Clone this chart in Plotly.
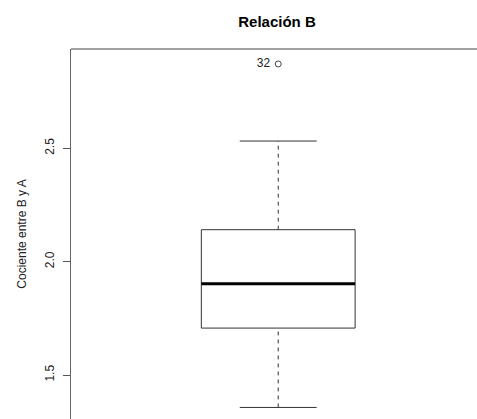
import plotly.graph_objects as go

# Summary statistics of the ratio B / A
group_pos = [1]
q1 = [1.707]
median = [1.903]
q3 = [2.141]
whisker_low = [1.357]
whisker_high = [2.532]
outlier_values = [2.872]
outlier_labels = ["32"]

y_ticks = [1.5, 2.0, 2.5]
y_tick_text = ["1.5", "2.0", "2.5"]

FONT = "Arial, Liberation Sans, sans-serif"
LINE = "#333333"
box_half = 0.2
cap_half = 0.1

fig = go.Figure()

for x, lo, a, m, b, hi in zip(group_pos, whisker_low, q1, median, q3, whisker_high):
    # box outline
    fig.add_trace(go.Scatter(
        x=[x - box_half, x + box_half, x + box_half, x - box_half, x - box_half],
        y=[a, a, b, b, a], mode="lines",
        line=dict(color=LINE, width=1), hoverinfo="skip"))
    # median
    fig.add_trace(go.Scatter(
        x=[x - box_half, x + box_half], y=[m, m], mode="lines",
        line=dict(color="black", width=3), hoverinfo="skip"))
    # dashed whiskers
    for y0, y1 in ((lo, a), (b, hi)):
        fig.add_trace(go.Scatter(
            x=[x, x], y=[y0, y1], mode="lines",
            line=dict(color=LINE, width=1, dash="4px,4px"), hoverinfo="skip"))
    # whisker caps
    for yv in (lo, hi):
        fig.add_trace(go.Scatter(
            x=[x - cap_half, x + cap_half], y=[yv, yv], mode="lines",
            line=dict(color=LINE, width=1), hoverinfo="skip"))

# outlier with its case label
fig.add_trace(go.Scatter(
    x=[group_pos[0]] * len(outlier_values), y=outlier_values,
    mode="markers+text", text=[t + "\u00a0" for t in outlier_labels],
    textposition="middle left",
    textfont=dict(family=FONT, size=12, color="#222222"),
    marker=dict(symbol="circle-open", size=6, color="#444444", line=dict(width=1)),
    hoverinfo="skip"))

fig.update_layout(
    width=477, height=419,
    margin=dict(l=71, r=0, t=49, b=0),
    paper_bgcolor="white", plot_bgcolor="white",
    showlegend=False,
    font=dict(family=FONT, size=12, color="#222222"),
    title=dict(text="<b>Relación B</b>", x=277 / 477, xref="container",
               xanchor="center", y=1 - 22 / 419, yanchor="middle",
               font=dict(family=FONT, size=15, color="black")),
    xaxis=dict(range=[0.461, 1.517], showgrid=False, zeroline=False,
               showticklabels=False, ticks="", showline=False),
    yaxis=dict(range=[1.306, 2.938], showgrid=False, zeroline=False,
               tickvals=y_ticks, ticktext=y_tick_text, tickangle=-90,
               ticks="outside", ticklen=7, tickcolor="#555555",
               ticklabelstandoff=4,
               showline=True, linecolor="#666666", linewidth=1,
               tickfont=dict(family=FONT, size=12, color="#222222"),
               title=dict(text="Cociente entre B y A", standoff=14,
                          font=dict(family=FONT, size=12, color="#222222"))),
    shapes=[dict(type="line", xref="paper", yref="paper", x0=0, x1=1, y0=1, y1=1,
                 line=dict(color="#444444", width=1))],
)

fig.write_html("out.html")
